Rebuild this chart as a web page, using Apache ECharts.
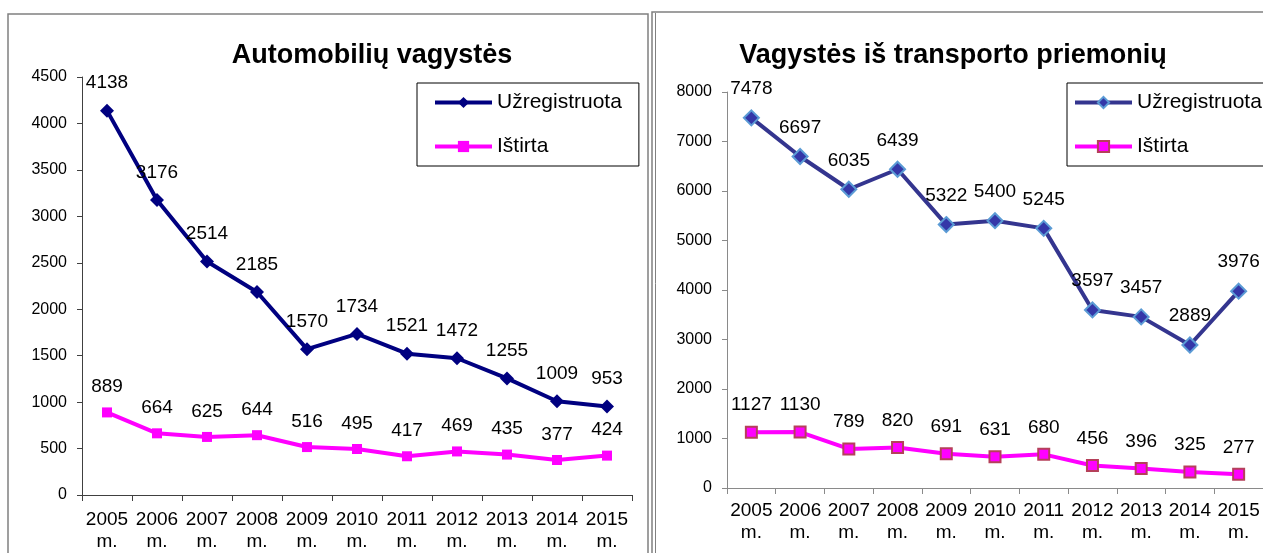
<!DOCTYPE html>
<html>
<head>
<meta charset="utf-8">
<script src="https://cdn.jsdelivr.net/npm/echarts@6/dist/echarts.min.js"></script>
<style>
  html, body { margin: 0; padding: 0; background: #fff; }
  #chart { width: 1263px; height: 553px; }
</style>
</head>
<body>
<div id="chart"></div>
<script>
// metai
const years = ['2005', '2006', '2007', '2008', '2009', '2010', '2011', '2012', '2013', '2014', '2015'];
// Automobilių vagystės
const autoRegistered = [4138, 3176, 2514, 2185, 1570, 1734, 1521, 1472, 1255, 1009, 953];
const autoSolved = [889, 664, 625, 644, 516, 495, 417, 469, 435, 377, 424];
// Vagystės iš transporto priemonių
const transRegistered = [7478, 6697, 6035, 6439, 5322, 5400, 5245, 3597, 3457, 2889, 3976];
const transSolved = [1127, 1130, 789, 820, 691, 631, 680, 456, 396, 325, 277];

const FONT = '"Liberation Sans", Arial, sans-serif';

const chart = echarts.init(document.getElementById('chart'));

function xAxis(gridIndex, axisColor, margin) {
    return {
        type: 'category',
        gridIndex: gridIndex,
        data: years.map(y => y + '\nm.'),
        boundaryGap: true,
        axisLine: { lineStyle: { color: axisColor, width: 1 } },
        axisTick: { show: true, length: 6, lineStyle: { color: axisColor } },
        axisLabel: {
            interval: 0,
            margin: margin,
            color: '#000',
            fontFamily: FONT,
            fontSize: 19,
            lineHeight: 22
        },
        splitLine: { show: false }
    };
}

function yAxis(gridIndex, max, step, axisColor) {
    return {
        type: 'value',
        gridIndex: gridIndex,
        min: 0,
        max: max,
        interval: step,
        axisLine: { show: true, lineStyle: { color: axisColor, width: 1 } },
        axisTick: { show: true, length: 5, lineStyle: { color: axisColor } },
        axisLabel: {
            margin: 15,
            color: '#000',
            fontFamily: FONT,
            fontSize: 16,
            formatter: v => String(v)
        },
        splitLine: { show: false }
    };
}

const dataLabel = {
    show: true,
    position: 'top',
    distance: 11,
    color: '#000',
    fontFamily: FONT,
    fontSize: 19
};

const legendBase = {
    orient: 'vertical',
    top: 83,
    itemWidth: 57,
    itemHeight: 14,
    itemGap: 23,
    borderColor: '#000',
    borderWidth: 1,
    borderRadius: 0,
    selectedMode: false,
    lineStyle: { width: 4 },
    textStyle: { color: '#000', fontFamily: FONT, fontSize: 21 }
};

const option = {
    animation: false,
    backgroundColor: '#fff',
    graphic: [
        {
            type: 'rect',
            shape: { x: 8, y: 14, width: 640, height: 560 },
            style: { fill: 'none', stroke: '#808080', lineWidth: 1.5 },
            silent: true
        },
        {
            type: 'rect',
            shape: { x: 652, y: 12, width: 640, height: 560 },
            style: { fill: 'none', stroke: '#808080', lineWidth: 1.5 },
            silent: true
        },
        {
            type: 'line',
            shape: { x1: 655.5, y1: 13, x2: 655.5, y2: 560 },
            style: { stroke: '#808080', lineWidth: 1 },
            silent: true
        }
    ],
    title: [
        {
            text: 'Automobilių vagystės',
            left: 372,
            top: 42,
            textAlign: 'center',
            padding: 0,
            textStyle: { fontFamily: FONT, fontSize: 27, fontWeight: 'bold', color: '#000' }
        },
        {
            text: 'Vagystės iš transporto priemonių',
            left: 953,
            top: 42,
            textAlign: 'center',
            padding: 0,
            textStyle: { fontFamily: FONT, fontSize: 27, fontWeight: 'bold', color: '#000' }
        }
    ],
    legend: [
        Object.assign({}, legendBase, {
            left: 417,
            padding: [9, 17, 9, 16],
            data: ['Užregistruota', 'Ištirta']
        }),
        Object.assign({}, legendBase, {
            left: 1067,
            padding: [9, 40, 9, 6],
            data: ['Užregistruota ', 'Ištirta ']
        })
    ],
    grid: [
        { left: 82, top: 77, width: 550, height: 420 },
        { left: 727, top: 92, width: 537, height: 396 }
    ],
    xAxis: [xAxis(0, '#404040', 14), xAxis(1, '#8a8a8a', 12)],
    yAxis: [yAxis(0, 4500, 500, '#404040'), yAxis(1, 8000, 1000, '#8a8a8a')],
    series: [
        {
            name: 'Užregistruota',
            type: 'line',
            xAxisIndex: 0,
            yAxisIndex: 0,
            data: autoRegistered,
            symbol: 'diamond',
            symbolSize: 14,
            lineStyle: { color: '#000080', width: 4 },
            itemStyle: { color: '#000080' },
            label: dataLabel
        },
        {
            name: 'Ištirta',
            type: 'line',
            xAxisIndex: 0,
            yAxisIndex: 0,
            data: autoSolved,
            symbol: 'rect',
            symbolSize: 10,
            lineStyle: { color: '#ff00ff', width: 4 },
            itemStyle: { color: '#ff00ff' },
            label: dataLabel
        },
        {
            name: 'Užregistruota ',
            type: 'line',
            xAxisIndex: 1,
            yAxisIndex: 1,
            data: transRegistered,
            symbol: 'diamond',
            symbolSize: 15,
            lineStyle: { color: '#34358f', width: 4 },
            itemStyle: { color: '#3437a8', borderColor: '#5b9bd5', borderWidth: 2 },
            label: dataLabel
        },
        {
            name: 'Ištirta ',
            type: 'line',
            xAxisIndex: 1,
            yAxisIndex: 1,
            data: transSolved,
            symbol: 'rect',
            symbolSize: 11,
            lineStyle: { color: '#ff00ff', width: 4 },
            itemStyle: { color: '#ff00ff', borderColor: '#b5405a', borderWidth: 2 },
            label: dataLabel
        }
    ]
};

chart.setOption(option);
</script>
</body>
</html>
